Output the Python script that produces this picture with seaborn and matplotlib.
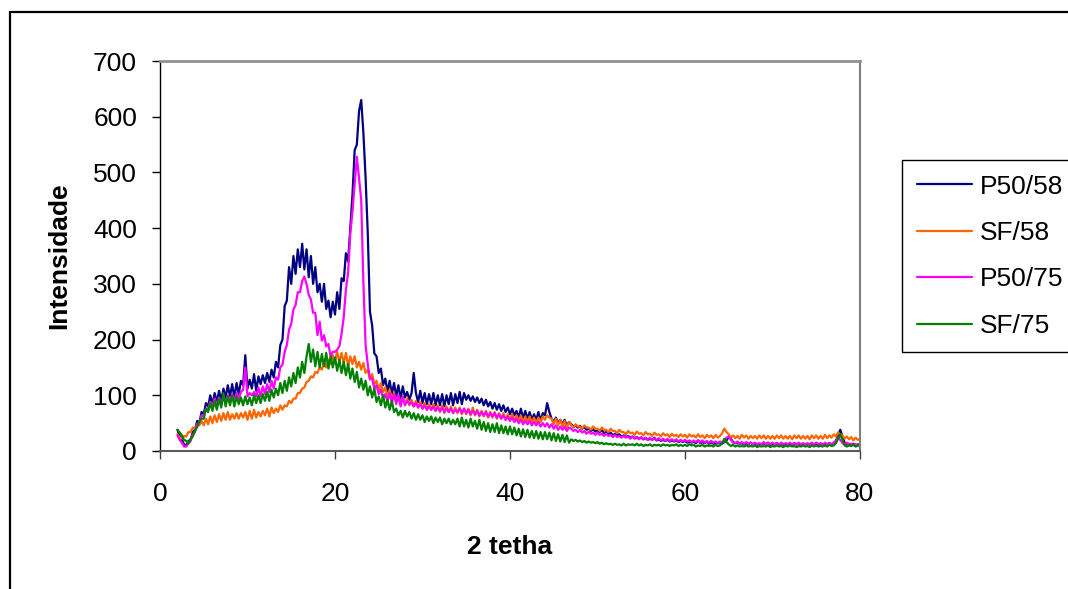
import numpy as np
import pandas as pd
import matplotlib
matplotlib.use("Agg")
import matplotlib.pyplot as plt
import seaborn as sns
from matplotlib.patches import Rectangle
from matplotlib.lines import Line2D

# Diffractogram sampling: first angle and step (degrees 2-theta)
X_START = 2.0
X_STEP = 0.25

# Intensity readings, one value per 0.25 deg from 2.0 to 80.0
p50_58 = [
    38, 26, 20, 12, 10, 18, 20, 34, 38, 54, 50, 70, 66, 86, 80, 100, 84, 104, 88, 108,
    90, 112, 96, 118, 98, 120, 96, 122, 102, 126, 118, 172, 112, 128, 112, 138, 108, 134, 120, 136,
    122, 140, 124, 146, 132, 160, 150, 190, 200, 260, 270, 330, 300, 350, 318, 362, 330, 372, 326, 362,
    312, 350, 300, 330, 285, 300, 268, 300, 255, 270, 240, 268, 245, 285, 255, 310, 305, 355, 340, 400,
    460, 540, 550, 610, 630, 570, 490, 390, 250, 225, 175, 170, 140, 148, 118, 130, 106, 126, 102, 122,
    98, 118, 94, 116, 96, 106, 92, 104, 140, 104, 88, 108, 86, 104, 84, 102, 84, 104, 82, 100,
    82, 102, 80, 100, 84, 104, 82, 102, 86, 106, 84, 104, 92, 100, 90, 98, 88, 96, 86, 94,
    82, 92, 80, 88, 76, 86, 74, 84, 72, 82, 70, 78, 66, 76, 64, 72, 60, 76, 58, 72,
    58, 70, 56, 66, 56, 70, 54, 68, 64, 86, 70, 58, 52, 60, 50, 56, 48, 56, 46, 52,
    48, 44, 46, 42, 45, 40, 43, 38, 41, 36, 39, 35, 37, 34, 38, 32, 34, 30, 33, 28,
    31, 28, 30, 26, 28, 25, 27, 24, 26, 23, 25, 22, 24, 21, 23, 20, 22, 20, 24, 19,
    21, 18, 20, 18, 20, 17, 19, 17, 19, 16, 18, 16, 18, 15, 17, 15, 17, 14, 19, 14,
    16, 14, 17, 13, 16, 13, 15, 14, 15, 13, 16, 19, 25, 22, 16, 14, 15, 13, 14, 12,
    14, 12, 15, 12, 14, 11, 13, 12, 14, 12, 15, 11, 13, 12, 14, 11, 14, 11, 13, 12,
    13, 11, 14, 12, 14, 11, 13, 12, 13, 12, 14, 11, 14, 11, 13, 12, 13, 12, 14, 12,
    14, 18, 28, 38, 26, 15, 12, 13, 11, 13, 10, 12, 11,
]

sf_58 = [
    30, 24, 22, 27, 26, 34, 34, 42, 40, 48, 46, 54, 46, 58, 48, 62, 50, 64, 52, 66,
    54, 68, 56, 70, 56, 66, 58, 68, 58, 68, 60, 70, 56, 72, 58, 74, 60, 70, 62, 72,
    64, 76, 62, 78, 68, 76, 70, 82, 74, 82, 80, 90, 86, 94, 94, 104, 104, 112, 114, 124,
    126, 134, 132, 142, 140, 150, 146, 160, 150, 164, 156, 172, 160, 178, 160, 176, 158, 176, 152, 170,
    156, 170, 150, 160, 146, 158, 140, 146, 128, 138, 120, 126, 110, 122, 106, 114, 98, 110, 94, 104,
    88, 98, 86, 96, 84, 94, 82, 92, 80, 90, 78, 88, 76, 86, 74, 84, 74, 84, 72, 82,
    70, 82, 68, 80, 70, 80, 68, 78, 68, 78, 66, 76, 66, 76, 64, 78, 64, 74, 62, 72,
    62, 72, 60, 70, 60, 70, 58, 68, 58, 68, 56, 66, 56, 66, 54, 64, 54, 64, 52, 62,
    52, 62, 50, 60, 50, 60, 52, 62, 56, 64, 60, 58, 48, 58, 46, 56, 44, 54, 42, 52,
    46, 42, 48, 44, 44, 40, 46, 42, 42, 38, 44, 40, 40, 36, 42, 38, 38, 34, 40, 36,
    36, 32, 38, 34, 34, 30, 36, 32, 33, 29, 35, 31, 32, 28, 34, 30, 31, 27, 33, 29,
    30, 26, 32, 28, 30, 25, 31, 27, 29, 25, 30, 26, 29, 24, 30, 26, 28, 24, 30, 25,
    28, 23, 29, 25, 28, 23, 29, 24, 27, 32, 40, 34, 30, 24, 28, 23, 27, 22, 29, 24,
    28, 22, 27, 23, 27, 22, 28, 23, 28, 22, 27, 22, 27, 22, 28, 23, 28, 22, 27, 22,
    27, 21, 28, 23, 28, 22, 27, 22, 27, 21, 28, 23, 28, 22, 27, 22, 29, 23, 28, 24,
    30, 26, 33, 30, 28, 22, 26, 21, 25, 19, 24, 20, 22,
]

p50_75 = [
    28, 20, 15, 8, 8, 14, 18, 30, 34, 48, 50, 64, 62, 76, 76, 88, 82, 94, 80, 96,
    84, 98, 86, 100, 88, 102, 90, 104, 92, 106, 110, 150, 98, 104, 100, 106, 98, 114, 98, 116,
    102, 120, 106, 126, 112, 132, 128, 150, 155, 178, 190, 218, 228, 254, 262, 285, 285, 305, 313, 300,
    280, 272, 248, 248, 208, 232, 198, 208, 188, 192, 170, 178, 178, 182, 188, 210, 240, 290, 320, 390,
    430, 480, 528, 490, 450, 300, 190, 155, 130, 130, 112, 118, 102, 110, 94, 102, 89, 104, 86, 102,
    84, 100, 80, 98, 82, 90, 84, 88, 80, 86, 78, 84, 76, 82, 74, 80, 74, 80, 72, 78,
    72, 78, 70, 76, 70, 76, 68, 74, 70, 76, 68, 76, 68, 74, 66, 72, 66, 72, 64, 70,
    64, 70, 62, 68, 62, 68, 60, 66, 58, 64, 56, 62, 54, 60, 52, 58, 50, 56, 48, 54,
    48, 54, 46, 52, 46, 52, 44, 50, 44, 50, 42, 48, 40, 46, 38, 44, 38, 44, 36, 42,
    40, 36, 38, 34, 38, 33, 36, 31, 35, 31, 33, 29, 33, 29, 31, 27, 31, 27, 29, 25,
    29, 25, 27, 24, 27, 24, 26, 22, 26, 22, 25, 21, 25, 21, 24, 20, 24, 20, 23, 19,
    23, 19, 22, 18, 22, 18, 21, 18, 21, 17, 20, 17, 20, 17, 19, 16, 19, 16, 19, 15,
    19, 15, 18, 15, 18, 15, 17, 14, 17, 14, 18, 24, 26, 20, 15, 14, 17, 13, 16, 13,
    16, 13, 15, 12, 15, 12, 14, 12, 16, 12, 15, 12, 15, 12, 14, 11, 15, 12, 14, 12,
    15, 12, 14, 11, 15, 12, 14, 12, 14, 11, 15, 12, 15, 12, 14, 11, 15, 12, 14, 12,
    15, 18, 24, 20, 14, 12, 15, 11, 13, 11, 12, 10, 11,
]

sf_75 = [
    38, 33, 28, 20, 18, 13, 22, 26, 37, 43, 54, 58, 58, 76, 70, 86, 72, 90, 74, 94,
    78, 104, 80, 98, 82, 100, 80, 98, 84, 96, 82, 98, 84, 96, 82, 100, 86, 100, 86, 102,
    90, 106, 90, 110, 96, 112, 100, 122, 104, 126, 108, 132, 116, 140, 122, 150, 132, 160, 140, 170,
    192, 160, 182, 152, 178, 150, 174, 152, 176, 148, 170, 150, 168, 144, 164, 140, 160, 136, 156, 130,
    148, 124, 142, 114, 130, 110, 126, 100, 116, 96, 112, 88, 98, 82, 100, 78, 92, 74, 90, 70,
    76, 64, 72, 60, 72, 62, 70, 58, 68, 56, 66, 56, 64, 52, 62, 54, 62, 50, 60, 52,
    60, 48, 58, 50, 58, 48, 56, 48, 58, 44, 60, 44, 56, 42, 58, 44, 54, 40, 56, 38,
    52, 36, 50, 34, 48, 34, 50, 32, 46, 32, 44, 30, 44, 30, 42, 28, 40, 26, 39, 25,
    38, 24, 36, 23, 36, 22, 34, 21, 34, 21, 33, 19, 32, 18, 30, 17, 29, 16, 28, 15,
    21, 18, 20, 17, 19, 16, 18, 15, 17, 15, 16, 14, 16, 13, 15, 12, 14, 12, 13, 11,
    13, 11, 12, 10, 13, 10, 12, 11, 12, 10, 13, 10, 12, 9, 11, 10, 12, 9, 11, 10,
    11, 9, 12, 10, 11, 9, 11, 10, 12, 9, 11, 9, 11, 9, 12, 10, 11, 8, 10, 9,
    11, 8, 10, 9, 10, 8, 11, 9, 10, 14, 22, 16, 12, 9, 11, 8, 10, 8, 9, 8,
    10, 8, 9, 8, 10, 7, 9, 8, 9, 8, 10, 7, 9, 8, 10, 8, 9, 7, 10, 8,
    10, 8, 9, 7, 9, 8, 10, 8, 9, 7, 10, 8, 10, 8, 9, 8, 10, 8, 11, 9,
    10, 14, 22, 30, 20, 10, 8, 10, 9, 11, 8, 10, 9,
]

series_names = ["P50/58", "SF/58", "P50/75", "SF/75"]
series_colors = ["#000080", "#FF6600", "#FF00FF", "#008000"]
x_ticks = [0, 20, 40, 60, 80]
y_ticks = [0, 100, 200, 300, 400, 500, 600, 700]

frames = []
for name, vals in zip(series_names, [p50_58, sf_58, p50_75, sf_75]):
    angles = X_START + X_STEP * np.arange(len(vals))
    frames.append(pd.DataFrame({"angle": angles, "intensity": vals, "sample": name}))
df = pd.concat(frames, ignore_index=True)

sns.set_theme(style="white")
plt.rcParams["font.family"] = ["Liberation Sans", "DejaVu Sans"]
plt.rcParams["text.color"] = "black"
plt.rcParams["axes.labelcolor"] = "black"
plt.rcParams["xtick.color"] = "black"
plt.rcParams["ytick.color"] = "black"

FS = 19

fig = plt.figure(figsize=(10.68, 5.89), dpi=100)
ax = fig.add_axes([0.1498, 0.2343, 0.6554, 0.6621])

sns.lineplot(
    data=df, x="angle", y="intensity", hue="sample",
    hue_order=series_names, palette=series_colors,
    estimator=None, sort=False, linewidth=1.6, ax=ax, legend=False,
)

ax.set_xlim(0, 80)
ax.set_ylim(0, 700)
ax.set_xticks(x_ticks)
ax.set_yticks(y_ticks)
ax.set_xticklabels([str(t) for t in x_ticks], fontsize=FS, color="black")
ax.set_yticklabels([str(t) for t in y_ticks], fontsize=FS, color="black")
ax.tick_params(axis="y", direction="out", length=6, width=1, color="black", pad=10.5, left=True)
ax.tick_params(axis="x", direction="out", length=5.5, width=1, color="#404040", pad=17, bottom=True)

for side, col, lw in [("left", "black", 1.0), ("bottom", "#5a5a5a", 1.5),
                      ("top", "#909090", 2.0), ("right", "#808080", 1.5)]:
    ax.spines[side].set_visible(True)
    ax.spines[side].set_color(col)
    ax.spines[side].set_linewidth(lw)

ax.set_xlabel("2 tetha", fontsize=FS, fontweight="bold", color="black")
ax.set_ylabel("Intensidade", fontsize=FS, fontweight="bold", color="black")
ax.xaxis.set_label_coords(0.5, -0.215)
ax.yaxis.set_label_coords(-0.127, 0.5)
ax.grid(False)

handles = [Line2D([], [], color=c, lw=1.6) for c in series_colors]
leg = fig.legend(
    handles, series_names, loc="upper left",
    bbox_to_anchor=(902 / 1068, 1 - 160 / 589),
    frameon=True, fancybox=False, edgecolor="black", framealpha=1,
    fontsize=FS, handlelength=2.1, handletextpad=0.3, labelspacing=0.85,
    borderpad=0.55, borderaxespad=0,
)
leg.get_frame().set_linewidth(1.0)
for t in leg.get_texts():
    t.set_color("black")

# Outer chart frame (continues past the right and bottom edges)
fig.add_artist(Rectangle((10 / 1068, -0.5), 2.0, 0.5 + 1 - 12 / 589,
                         transform=fig.transFigure, fill=False,
                         edgecolor="black", linewidth=1.6, clip_on=False))

fig.savefig("out.png", dpi=100)
